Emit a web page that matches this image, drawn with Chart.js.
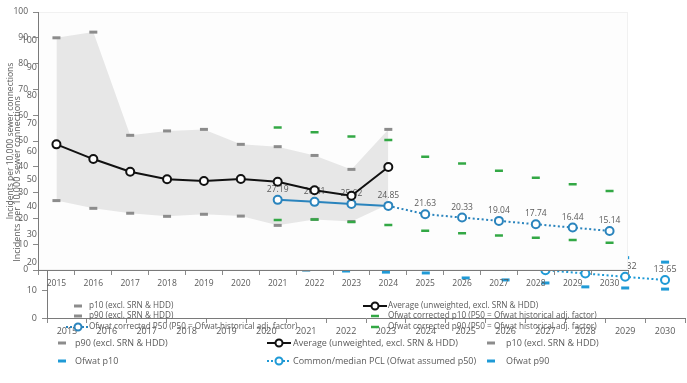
<!DOCTYPE html>
<html>
<head>
<meta charset="utf-8">
<script src="https://cdn.jsdelivr.net/npm/chart.js@4.4.0/dist/chart.umd.min.js"></script>
<style>
  html, body { margin: 0; padding: 0; background: #fff; overflow: hidden; }
  #wrap { position: relative; width: 687px; height: 383px; overflow: hidden; }
  #pclChart, #ofwatChart { position: absolute; left: 0; top: 0; }
</style>
</head>
<body>
<div id="wrap">
  <canvas id="pclChart" width="692" height="383"></canvas>
  <canvas id="ofwatChart" width="687" height="383"></canvas>
</div>
<script>
const years = ["2015", "2016", "2017", "2018", "2019", "2020", "2021", "2022",
               "2023", "2024", "2025", "2026", "2027", "2028", "2029", "2030"];
const yTicks = [0, 10, 20, 30, 40, 50, 60, 70, 80, 90, 100];

// historic spread (excl. SRN & HDD)
const p10Hist = [26.9, 23.9, 22.0, 20.8, 21.6, 20.9, 17.3, 19.6, 18.8, 25.5, null, null, null, null, null, null];
const p90Hist = [90.0, 92.2, 52.2, 53.9, 54.5, 48.7, 47.8, 44.4, 39.0, 54.5, null, null, null, null, null, null];
const avgHist = [48.7, 43.0, 38.1, 35.2, 34.5, 35.3, 34.2, 30.9, 28.8, 39.9, null, null, null, null, null, null];

// Ofwat corrected P50 / p10 / p90 (P50 = Ofwat historical adj. factor)
const ofwatCorrP50 = [null, null, null, null, null, null, 27.19, 26.41, 25.62, 24.85, 21.63, 20.33, 19.04, 17.74, 16.44, 15.14];
const ofwatCorrP10 = [null, null, null, null, null, null, 19.4, 19.6, 18.6, 17.4, 15.2, 14.2, 13.4, 12.5, 11.6, 10.6];
const ofwatCorrP90 = [null, null, null, null, null, null, 55.2, 53.4, 51.7, 50.4, 43.9, 41.3, 38.5, 35.8, 33.2, 30.6];

// common/median PCL (Ofwat assumed p50) with Ofwat p10 / p90
const medianPcl = [null, null, null, null, null, null, 24.1, 23.3, 22.4, 21.6, 20.7, 18.6, 17.2, 16.0, 14.82, 13.65];
const ofwatP10 = [null, null, null, null, null, null, 17.3, 16.9, 16.5, 16.2, 14.4, 13.7, 12.6, 11.2, 10.8, 10.4];
const ofwatP90 = [null, null, null, null, null, null, 31.5, 30.6, 29.7, 28.9, 26.6, 25.3, 24.3, 23.0, 21.7, 20.1];

const GREY = "#8c8c8c";
const BAND = "#e7e7e7";
const BLUE = "#2a84bd";
const CYAN = "#1f9ad6";
const GREEN = "#33a845";
const TEXT = "#5a5a5a";
const FONT = "'Open Sans', 'Noto Sans', sans-serif";

Chart.defaults.font.family = FONT;
Chart.defaults.font.size = 8.5;
Chart.defaults.color = TEXT;

// short horizontal marks, no connecting line
function dashSet(label, data, color, width) {
  return {
    label: label, data: data, showLine: false,
    pointStyle: "line", pointRadius: 4, pointHoverRadius: 4,
    pointBorderColor: color, pointBorderWidth: width || 3,
    borderColor: color, backgroundColor: color
  };
}

function circleLine(label, data, color, dotted) {
  return {
    label: label, data: data,
    borderColor: color, borderWidth: 2, borderDash: dotted ? [2, 2.5] : [],
    pointRadius: 4, pointBorderWidth: 2, pointBackgroundColor: "#fff", pointBorderColor: color,
    spanGaps: false, tension: 0, fill: false
  };
}

// p10 dashes plus the p90 dashes that carry the grey band down to p10
function histBand(p10Index) {
  const p10 = dashSet("p10 (excl. SRN & HDD)", p10Hist, GREY);
  const p90 = dashSet("p90 (excl. SRN & HDD)", p90Hist, GREY);
  p90.showLine = true;
  p90.borderColor = "rgba(0,0,0,0)";
  p90.backgroundColor = BAND;
  p90.fill = { target: p10Index };
  return [p10, p90];
}

// value labels above the points of one dataset
const pointValues = {
  id: "pointValues",
  afterDatasetDraw(chart, args, opts) {
    if (args.index !== opts.dataset) return;
    const ctx = chart.ctx;
    const data = chart.data.datasets[args.index].data;
    ctx.save();
    ctx.font = opts.size + "px " + FONT;
    ctx.fillStyle = TEXT;
    ctx.textAlign = "center";
    ctx.textBaseline = "bottom";
    args.meta.data.forEach(function (pt, i) {
      if (data[i] == null) return;
      ctx.fillText(data[i].toFixed(2), pt.x, pt.y - 6);
    });
    ctx.restore();
  }
};

// legend laid out on a fixed grid of columns and rows
const gridLegend = {
  id: "gridLegend",
  afterDraw(chart, args, opts) {
    const ctx = chart.ctx;
    ctx.save();
    ctx.font = opts.size + "px " + FONT;
    ctx.textBaseline = "middle";
    opts.items.forEach(function (it) {
      const ds = chart.data.datasets[it.dataset];
      const mx = opts.markerX[it.col];
      const y = opts.rows[it.row];
      const color = ds.pointBorderColor;
      ctx.strokeStyle = color;
      if (ds.pointStyle === "line") {
        ctx.lineWidth = ds.pointBorderWidth;
        ctx.beginPath();
        ctx.moveTo(mx - 4, y);
        ctx.lineTo(mx + 4, y);
        ctx.stroke();
      } else {
        const dotted = it.dotted || (ds.borderDash && ds.borderDash.length);
        ctx.lineWidth = 2;
        ctx.setLineDash(dotted ? [2, 2] : []);
        ctx.beginPath();
        ctx.moveTo(mx - 12, y);
        ctx.lineTo(mx + 12, y);
        ctx.stroke();
        ctx.setLineDash([]);
        ctx.fillStyle = "#fff";
        ctx.beginPath();
        ctx.arc(mx, y, 3.5, 0, Math.PI * 2);
        ctx.fill();
        ctx.stroke();
      }
      ctx.fillStyle = TEXT;
      ctx.fillText(ds.label, opts.textX[it.col], y);
    });
    ctx.restore();
  }
};

// white plot area so the wider chart underneath only shows round the edges
const plotBackground = {
  id: "plotBackground",
  beforeDraw(chart, args, opts) {
    const { ctx, chartArea: a } = chart;
    ctx.save();
    ctx.fillStyle = opts.color;
    ctx.fillRect(a.left, a.top, a.right - a.left, a.bottom - a.top);
    ctx.strokeStyle = "#f1f1f1";
    ctx.lineWidth = 1;
    ctx.strokeRect(a.left + 0.5, a.top + 0.5, a.right - a.left - 1, a.bottom - a.top - 1);
    ctx.restore();
  }
};

function scalesFor(yWidth, xHeight, titlePad, size) {
  return {
    x: {
      type: "category", offset: true,
      grid: { display: true, drawOnChartArea: false, offset: true, tickLength: 5, color: "#8a8a8a" },
      border: { color: "#7a7a7a", width: 1 },
      ticks: { padding: 3, maxRotation: 0, autoSkip: false, color: TEXT, font: { size: size } },
      afterFit: function (s) { s.height = xHeight; }
    },
    y: {
      min: 0, max: 100,
      afterBuildTicks: function (s) { s.ticks = yTicks.map(function (v) { return { value: v }; }); },
      grid: { display: true, drawOnChartArea: false, tickLength: 5, color: "#8a8a8a" },
      border: { color: "#7a7a7a", width: 1 },
      ticks: { padding: 5, color: TEXT, font: { size: size } },
      title: {
        display: true, text: "Incidents per 10,000 sewer connections",
        color: TEXT, font: { size: size }, padding: { top: titlePad, bottom: 0 }
      },
      afterFit: function (s) { s.width = yWidth; }
    }
  };
}

// wide chart: common/median PCL with the Ofwat p10 / p90 range
const pclSets = [
  circleLine("Common/median PCL (Ofwat assumed p50)", medianPcl, CYAN, true),
  circleLine("Average (unweighted, excl. SRN & HDD)", avgHist, "#111", false),
  dashSet("Ofwat p10", ofwatP10, CYAN),
  dashSet("Ofwat p90", ofwatP90, CYAN)
].concat(histBand(4));

new Chart(document.getElementById("pclChart"), {
  type: "line",
  data: { labels: years, datasets: pclSets },
  options: {
    responsive: false, animation: false, devicePixelRatio: 1,
    layout: { padding: { left: 0, top: 40, right: 0, bottom: 45 } },
    scales: scalesFor(47, 20, 12, 9),
    plugins: {
      legend: { display: false },
      tooltip: { enabled: false },
      pointValues: { dataset: 0, size: 9 },
      gridLegend: {
        size: 9,
        markerX: [62, 279, 491],
        textX: [75, 293, 506],
        rows: [343, 361],
        items: [
          { dataset: 5, col: 0, row: 0 },
          { dataset: 1, col: 1, row: 0 },
          { dataset: 4, col: 2, row: 0 },
          { dataset: 2, col: 0, row: 1 },
          { dataset: 0, col: 1, row: 1 },
          { dataset: 3, col: 2, row: 1 }
        ]
      }
    }
  },
  plugins: [pointValues, gridLegend]
});

// front chart: historic spread and the Ofwat corrected projection
const ofwatSets = [
  circleLine("Average (unweighted, excl. SRN & HDD)", avgHist, "#111", false),
  circleLine("Ofwat corrected P50 (P50 = Ofwat historical adj. factor)", ofwatCorrP50, BLUE, false),
  dashSet("Ofwat corrected p10 (P50 = Ofwat historical adj. factor)", ofwatCorrP10, GREEN, 2.5),
  dashSet("Ofwat corrected p90 (P50 = Ofwat historical adj. factor)", ofwatCorrP90, GREEN, 2.5)
].concat(histBand(4));

// projection years after 2024 are dotted
ofwatSets[1].segment = {
  borderDash: function (c) { return c.p0DataIndex >= 9 ? [2, 2.5] : undefined; }
};

new Chart(document.getElementById("ofwatChart"), {
  type: "line",
  data: { labels: years, datasets: ofwatSets },
  options: {
    responsive: false, animation: false, devicePixelRatio: 1,
    layout: { padding: { left: 0, top: 12, right: 59, bottom: 93 } },
    scales: scalesFor(38, 20, 5, 8.5),
    plugins: {
      legend: { display: false },
      tooltip: { enabled: false },
      plotBackground: { color: "#fdfdfd" },
      pointValues: { dataset: 1, size: 8.5 },
      gridLegend: {
        size: 8.2,
        markerX: [78, 375],
        textX: [89, 388],
        rows: [306, 316, 327],
        items: [
          { dataset: 4, col: 0, row: 0 },
          { dataset: 5, col: 0, row: 1 },
          { dataset: 1, col: 0, row: 2, dotted: true },
          { dataset: 0, col: 1, row: 0 },
          { dataset: 2, col: 1, row: 1 },
          { dataset: 3, col: 1, row: 2 }
        ]
      }
    }
  },
  plugins: [plotBackground, pointValues, gridLegend]
});
</script>
</body>
</html>
